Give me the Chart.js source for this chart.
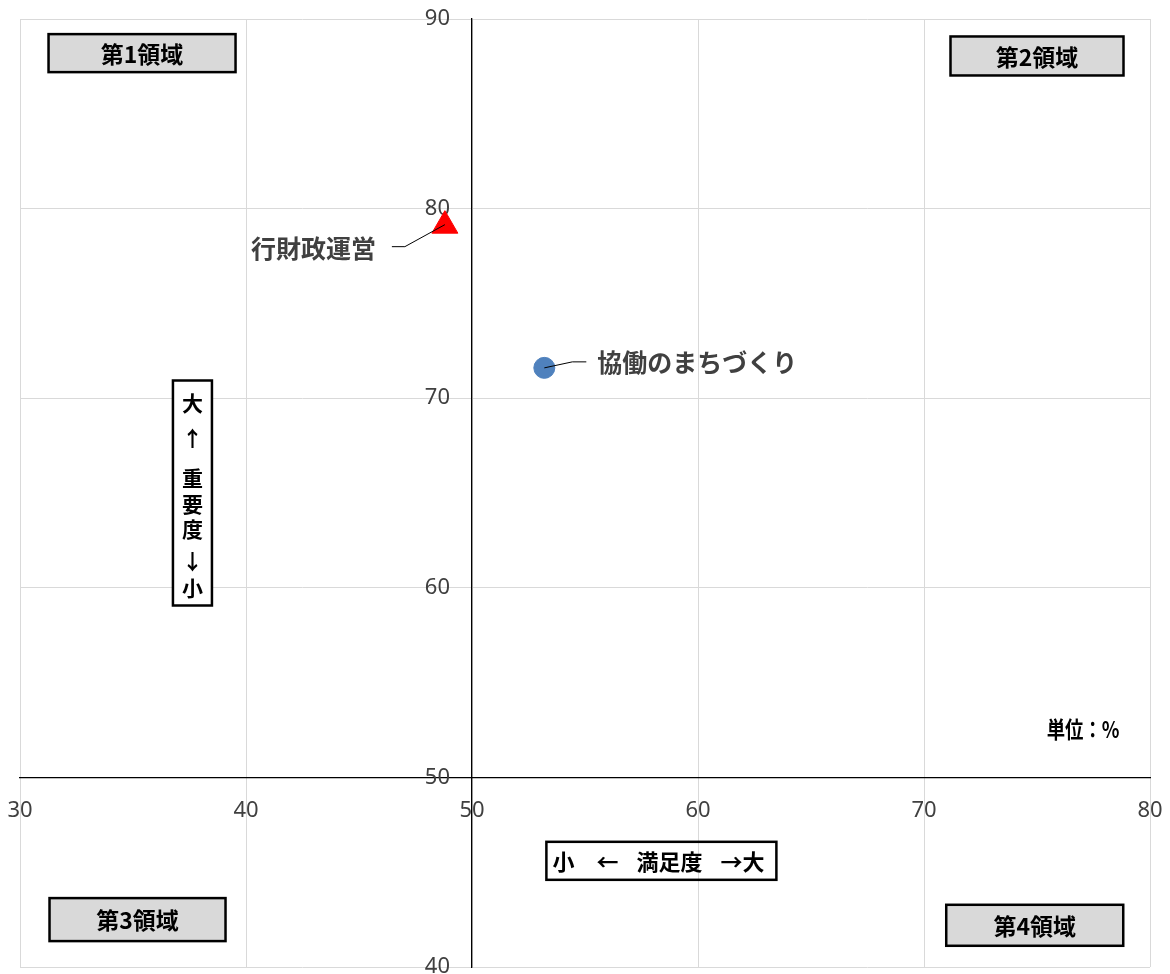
<!DOCTYPE html>
<html>
<head>
<meta charset="utf-8">
<script src="https://cdn.jsdelivr.net/npm/chart.js@4.4.0/dist/chart.umd.min.js"></script>
<style>
html, body { margin: 0; padding: 0; background: #fff; }
canvas { display: block; }
</style>
</head>
<body>
<canvas id="myChart" width="1170" height="974"></canvas>
<script>
// data
var seriesNames = ["協働のまちづくり", "行財政運営"];
var satisfaction = [53.2, 48.8];   // x: 満足度
var importance = [71.6, 79.1];     // y: 重要度
var xTicks = [30, 40, 50, 60, 70, 80];
var yTicks = [40, 50, 60, 70, 80, 90];
var areaNames = ["第1領域", "第2領域", "第3領域", "第4領域"];
var xTitle = "小 ← 満足度 →大";
var yTitle = ["大", "↑", "重", "要", "度", "↓", "小"];
var unitText = "単位：%";

var CJK = '"Noto Sans CJK JP", "Noto Sans", sans-serif';

// how each series looks
var pointShapes = ["circle", "triangle"];
var pointColors = ["#4F81BD", "#FF0000"];
var pointSizes = [10.5, 15];
// leader line + label placement relative to the point (px)
var labelStyle = [
	{ line: [[0, 0], [28, -6], [42, -6]], dx: 53, dy: -5, align: "left" },
	{ line: [[0, -1], [-40, 21], [-53, 21]], dx: -69, dy: 23, align: "right" }
];
// boxes, centre given in chart units, size in px
var areaBoxes = [
	{ cx: 35.4, cy: 88.2, w: 187, h: 38 },
	{ cx: 75.0, cy: 88.05, w: 173, h: 39 },
	{ cx: 35.2, cy: 42.5, w: 176, h: 43 },
	{ cx: 74.9, cy: 42.2, w: 177, h: 41 }
];

function boxAt(ctx, x, y, w, h, fill) {
	if (fill) {
		ctx.fillStyle = fill;
		ctx.fillRect(x - w / 2, y - h / 2, w, h);
	}
	ctx.lineWidth = 2.5;
	ctx.strokeStyle = "#000";
	ctx.strokeRect(x - w / 2, y - h / 2, w, h);
	ctx.fillStyle = "#000";
}

var notes = {
	id: "notes",
	afterDatasetsDraw: function(chart) {
		var ctx = chart.ctx;
		var sx = chart.scales.x, sy = chart.scales.y;
		ctx.save();

		// point labels with leader lines
		for (var i = 0; i < seriesNames.length; i++) {
			var p = chart.getDatasetMeta(i).data[0];
			var st = labelStyle[i];
			ctx.beginPath();
			ctx.strokeStyle = "#000";
			ctx.lineWidth = 1;
			st.line.forEach(function(q, k) {
				if (k == 0) ctx.moveTo(p.x + q[0], p.y + q[1]);
				else ctx.lineTo(p.x + q[0], p.y + q[1]);
			});
			ctx.stroke();
			ctx.fillStyle = "#404040";
			ctx.font = "bold 25px " + CJK;
			ctx.textAlign = st.align;
			ctx.textBaseline = "middle";
			ctx.fillText(seriesNames[i], p.x + st.dx, p.y + st.dy);
		}

		// 第n領域 boxes
		ctx.textAlign = "center";
		ctx.textBaseline = "middle";
		for (var j = 0; j < areaNames.length; j++) {
			var b = areaBoxes[j];
			var bx = sx.getPixelForValue(b.cx), by = sy.getPixelForValue(b.cy);
			boxAt(ctx, bx, by, b.w, b.h, "#D9D9D9");
			ctx.font = "bold 23px " + CJK;
			ctx.fillText(areaNames[j], bx, by + 1);
		}

		// x title box, pieces spread out like the original
		var tx = sx.getPixelForValue(58.38), ty = sy.getPixelForValue(45.6);
		boxAt(ctx, tx, ty, 230, 38, null);
		ctx.font = "bold 22px " + CJK;
		var parts = xTitle.split(" ");
		var partX = [-98, -54, 8, 81];
		parts.forEach(function(t, k) {
			ctx.fillText(t, tx + partX[k], ty + 1);
		});

		// y title box (vertical)
		var vx = sx.getPixelForValue(37.63), vy = sy.getPixelForValue(65.0);
		boxAt(ctx, vx, vy, 39, 225, "#FFFFFF");
		var offs = [-90, -55, -15, 11, 36, 68, 95];
		ctx.font = "bold 21px " + CJK;
		yTitle.forEach(function(ch, k) {
			ctx.fillText(ch, vx, vy + offs[k]);
		});

		// unit
		var ux = sx.getPixelForValue(77.04), uy = sy.getPixelForValue(52.55);
		ctx.translate(ux, uy);
		ctx.scale(0.8, 1);
		ctx.font = "bold 23px " + CJK;
		ctx.fillText(unitText, 0, 0);
		ctx.restore();
	}
};

var datasets = seriesNames.map(function(name, i) {
	return {
		label: name,
		data: [{ x: satisfaction[i], y: importance[i] }],
		pointStyle: pointShapes[i],
		pointRadius: pointSizes[i],
		pointHoverRadius: pointSizes[i],
		backgroundColor: pointColors[i],
		borderColor: pointColors[i],
		pointBorderWidth: 1
	};
});

function clearPad(s) {
	s.paddingLeft = 0; s.paddingRight = 0;
	s.paddingTop = 0; s.paddingBottom = 0;
}

new Chart("myChart", {
	type: "scatter",
	data: { datasets: datasets },
	options: {
		responsive: false,
		animation: false,
		layout: { autoPadding: false, padding: { left: 20, right: 20, top: 19, bottom: 7 } },
		plugins: {
			legend: { display: false },
			tooltip: { enabled: false }
		},
		scales: {
			x: {
				type: "linear",
				min: xTicks[0],
				max: xTicks[xTicks.length - 1],
				position: { y: 50 },
				afterFit: clearPad,
				afterBuildTicks: function(s) { s.ticks = xTicks.map(function(v) { return { value: v }; }); },
				ticks: { color: "#404040", padding: 3, font: { family: "Noto Sans", size: 22 } },
				grid: { color: "#D9D9D9", lineWidth: 1, tickLength: 17, tickColor: "rgba(0,0,0,0)" },
				border: { color: "#000", width: 1.3 }
			},
			y: {
				type: "linear",
				min: yTicks[0],
				max: yTicks[yTicks.length - 1],
				position: { x: 50 },
				afterFit: clearPad,
				afterBuildTicks: function(s) { s.ticks = yTicks.map(function(v) { return { value: v }; }); },
				ticks: {
					color: "#404040",
					font: { family: "Noto Sans", size: 22 },
					// labels sit a little left of the axis line
					callback: function(v) { return v + "\u2003"; }
				},
				grid: { color: "#D9D9D9", lineWidth: 1, tickLength: 20, tickColor: "rgba(0,0,0,0)" },
				border: { color: "#000", width: 1.3 }
			}
		}
	},
	plugins: [notes]
});
</script>
</body>
</html>
